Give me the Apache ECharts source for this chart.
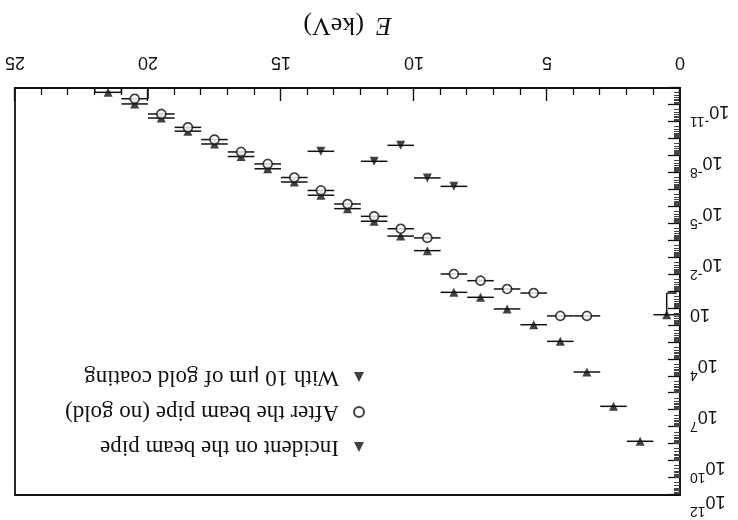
<!DOCTYPE html>
<html>
<head>
<meta charset="utf-8">
<script src="https://cdn.jsdelivr.net/npm/echarts@6/dist/echarts.min.js"></script>
<style>
html,body{margin:0;padding:0;background:#fff;}
#c{width:738px;height:520px;transform:rotate(180deg);transform-origin:50% 50%;}
</style>
</head>
<body>
<div id="c"></div>
<script>
// ---- data ----
const binWidth = 1; // keV
const xTicks = [0, 5, 10, 15, 20, 25];
const yLabelExponents = [-11, -8, -5, -2, 1, 4, 7, 10, 12];

const seriesNames = ['Incident on the beam pipe', 'After the beam pipe (no gold)', 'With 10 \u03bcm of gold coating'];

const incidentE = [0.5, 1.5, 2.5, 3.5, 4.5, 5.5, 6.5, 7.5, 8.5, 9.5, 10.5, 11.5, 12.5, 13.5, 14.5, 15.5, 16.5, 17.5, 18.5, 19.5, 20.5, 21.5];
const incidentFlux = [23.4, 6.8e8, 5.9e6, 5.6e4, 871, 91, 10.7, 2.2, 1.12, 3.9e-3, 5.4e-4, 7.2e-5, 1.3e-5, 2.1e-6, 3.5e-7, 5.8e-8, 1.1e-8, 2.0e-9, 3.5e-10, 5.9e-11, 8.7e-12, 1.8e-12];
const incidentLow = [1.23, null, null, null, null, null, null, null, null, null, null, null, null, null, null, null, null, null, null, null, null, null];
const incidentDrop = [null, null, null, null, null, null, null, null, null, null, null, null, null, null, null, null, null, null, null, null, null, 'both'];

const afterE = [3.5, 4.5, 5.5, 6.5, 7.5, 8.5, 9.5, 10.5, 11.5, 12.5, 13.5, 14.5, 15.5, 16.5, 17.5, 18.5, 19.5, 20.5];
const afterFlux = [27.5, 27.5, 1.23, 0.71, 0.23, 0.093, 6.9e-4, 2.0e-4, 3.7e-5, 6.9e-6, 1.1e-6, 1.9e-7, 3.0e-8, 5.9e-9, 1.1e-9, 2.1e-10, 3.4e-11, 4.3e-12];
const afterDrop = [null, null, null, null, null, null, null, null, null, null, null, null, null, null, null, null, null, 'low'];

const goldE = [8.5, 9.5, 10.5, 11.5, 13.5];
const goldFlux = [6.3e-7, 2.0e-7, 2.4e-9, 2.1e-8, 5.4e-9];

const yMin = 1e-12, yMax = 1e12;

// ---- chart ----
const chart = echarts.init(document.getElementById('c'), null, {renderer: 'canvas'});
const INK = '#111';

function errSeries(E, F, low, drop) {
  const data = E.map((e, i) => [e, F[i], low ? low[i] : null, drop ? drop[i] : null]);
  return {
    type: 'custom',
    silent: true,
    z: 2,
    data: data,
    renderItem: function (params, api) {
      const i = params.dataIndex;
      const d = data[i];
      const e = d[0], v = d[1];
      const pL = api.coord([e - binWidth / 2, v]);
      const pR = api.coord([e + binWidth / 2, v]);
      const st = {stroke: INK, lineWidth: 1.5};
      const ch = [{type: 'line', shape: {x1: pL[0], y1: pL[1], x2: pR[0], y2: pR[1]}, style: st}];
      if (d[2] != null) {
        const pc = api.coord([e, v]);
        const pl = api.coord([e, d[2]]);
        ch.push({type: 'line', shape: {x1: pc[0], y1: pc[1], x2: pl[0], y2: pl[1]}, style: st});
        ch.push({type: 'line', shape: {x1: pl[0] - 10, y1: pl[1], x2: pl[0], y2: pl[1]}, style: st});
      }
      if (d[3]) {
        const bL = api.coord([e - binWidth / 2, yMin]);
        const bR = api.coord([e + binWidth / 2, yMin]);
        if (d[3] === 'both' || d[3] === 'low') ch.push({type: 'line', shape: {x1: pL[0], y1: pL[1], x2: bL[0], y2: bL[1]}, style: st});
        if (d[3] === 'both') ch.push({type: 'line', shape: {x1: pR[0], y1: pR[1], x2: bR[0], y2: bR[1]}, style: st});
      }
      return {type: 'group', children: ch};
    }
  };
}

const option = {
  backgroundColor: '#fff',
  animation: false,
  grid: {left: 58, right: 15, top: 25, bottom: 88, show: true, borderColor: INK, borderWidth: 1.8, containLabel: false},
  legend: {
    orient: 'vertical',
    left: 368, top: 56,
    itemWidth: 10, itemHeight: 10,
    itemGap: 11,
    data: seriesNames,
    textStyle: {fontFamily: 'Liberation Serif', fontSize: 23, color: INK, lineHeight: 24, padding: [0, 0, 0, 10]},
    selectedMode: false
  },
  xAxis: {
    type: 'value', min: 0, max: 25, interval: 5,
    name: '{i|E}{n|(keV)}', nameLocation: 'middle', nameGap: 50,
    nameTextStyle: {rich: {
      i: {fontFamily: 'Liberation Serif', fontStyle: 'italic', fontSize: 26, color: INK},
      n: {fontFamily: 'Liberation Serif', fontSize: 26, color: INK, padding: [0, 0, 0, 12]}
    }},
    axisLine: {show: true, lineStyle: {color: INK, width: 1.8}},
    axisTick: {show: true, inside: true, length: 13, lineStyle: {color: INK, width: 1.4}},
    minorTick: {show: true, splitNumber: 5, length: 7, lineStyle: {color: INK, width: 1.3}},
    axisLabel: {formatter: v => xTicks.includes(v) ? String(v) : '', fontFamily: 'Liberation Sans', fontSize: 18, color: INK, margin: 17},
    splitLine: {show: false}
  },
  yAxis: {
    type: 'log', logBase: 10, min: yMin, max: yMax, interval: 1,
    axisLine: {show: true, lineStyle: {color: INK, width: 1.8}},
    axisTick: {show: true, inside: true, length: 12, lineStyle: {color: INK, width: 1.3}},
    minorTick: {show: true, splitNumber: 9, length: 6, lineStyle: {color: '#444', width: 1}},
    axisLabel: {
      interval: 0, showMinLabel: true, showMaxLabel: true, margin: 10,
      padding: [0, 0, 20, 0],
      formatter: function (v) {
        const e = Math.round(Math.log10(v));
        if (!yLabelExponents.includes(e)) return '';
        return e === 1 ? '{b|10}' : '{b|10}{s|' + e + '}';
      },
      rich: {
        b: {fontFamily: 'Liberation Sans', fontSize: 18, color: INK, lineHeight: 26, verticalAlign: 'bottom'},
        s: {fontFamily: 'Liberation Sans', fontSize: 14, color: INK, lineHeight: 26, verticalAlign: 'top'}
      }
    },
    splitLine: {show: false}
  },
  series: [
    errSeries(incidentE, incidentFlux, incidentLow, incidentDrop),
    errSeries(afterE, afterFlux, null, afterDrop),
    errSeries(goldE, goldFlux, null, null),
    {name: seriesNames[0], type: 'scatter', z: 5, symbol: 'triangle', symbolRotate: 180, symbolSize: 9,
      itemStyle: {color: INK}, data: incidentE.map((e, i) => [e, incidentFlux[i]])},
    {name: seriesNames[1], type: 'scatter', z: 6, symbol: 'circle', symbolSize: 9,
      itemStyle: {color: '#fff', borderColor: INK, borderWidth: 1.7}, data: afterE.map((e, i) => [e, afterFlux[i]])},
    {name: seriesNames[2], type: 'scatter', z: 5, symbol: 'triangle', symbolRotate: 0, symbolSize: 9,
      itemStyle: {color: INK}, data: goldE.map((e, i) => [e, goldFlux[i]])}
  ]
};
chart.setOption(option);
</script>
</body>
</html>
